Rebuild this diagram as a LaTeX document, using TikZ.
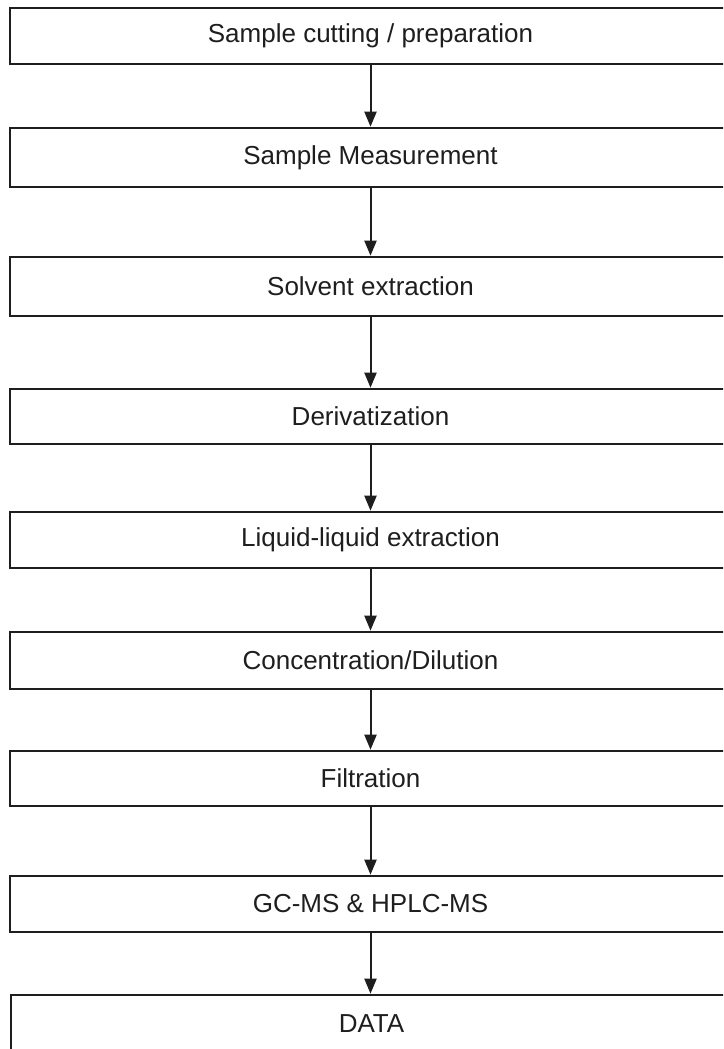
\documentclass[tikz,border=0pt]{standalone}
\usepackage{fontspec}
\setmainfont{Liberation Sans}
\usetikzlibrary{arrows.meta}
\definecolor{ink}{HTML}{1E1E1E}
\begin{document}
\begin{tikzpicture}[x=1pt,y=-1pt,
  stepbox/.style={draw=ink,line width=2.6pt,rectangle,inner sep=0pt,
    minimum width=721pt,font=\fontsize{26}{30}\selectfont,text=ink},
  flow/.style={draw=ink,line width=2pt,-{Triangle[length=15pt,width=12pt]}}]
\useasboundingbox (0,0) rectangle (723,1049);
\clip (0,0) rectangle (723,1049);
\fill[white] (0,0) rectangle (723,1049);
\node[stepbox,minimum height=56pt] (b1) at (370.5,36) {Sample cutting / preparation};
\node[stepbox,minimum height=59pt] (b2) at (370.5,157.5) {Sample Measurement};
\node[stepbox,minimum height=59pt] (b3) at (370.5,286.5) {Solvent extraction};
\node[stepbox,minimum height=55pt] (b4) at (370.5,416.5) {Derivatization};
\node[stepbox,minimum height=56pt] (b5) at (370.5,540) {Liquid-liquid extraction};
\node[stepbox,minimum height=57pt] (b6) at (370.5,660.5) {Concentration/Dilution};
\node[stepbox,minimum height=55pt] (b7) at (370.5,778.5) {Filtration};
\node[stepbox,minimum height=56pt] (b8) at (370.5,904) {GC-MS \& HPLC-MS};
\node[stepbox,minimum height=58pt] (b9) at (371.5,1024) {DATA};
\draw[flow] (b1.south) -- (b2.north);
\draw[flow] (b2.south) -- (b3.north);
\draw[flow] (b3.south) -- (b4.north);
\draw[flow] (b4.south) -- (b5.north);
\draw[flow] (b5.south) -- (b6.north);
\draw[flow] (b6.south) -- (b7.north);
\draw[flow] (b7.south) -- (b8.north);
\draw[flow] (b8.south) -- (b8.south |- b9.north);
\end{tikzpicture}
\end{document}
